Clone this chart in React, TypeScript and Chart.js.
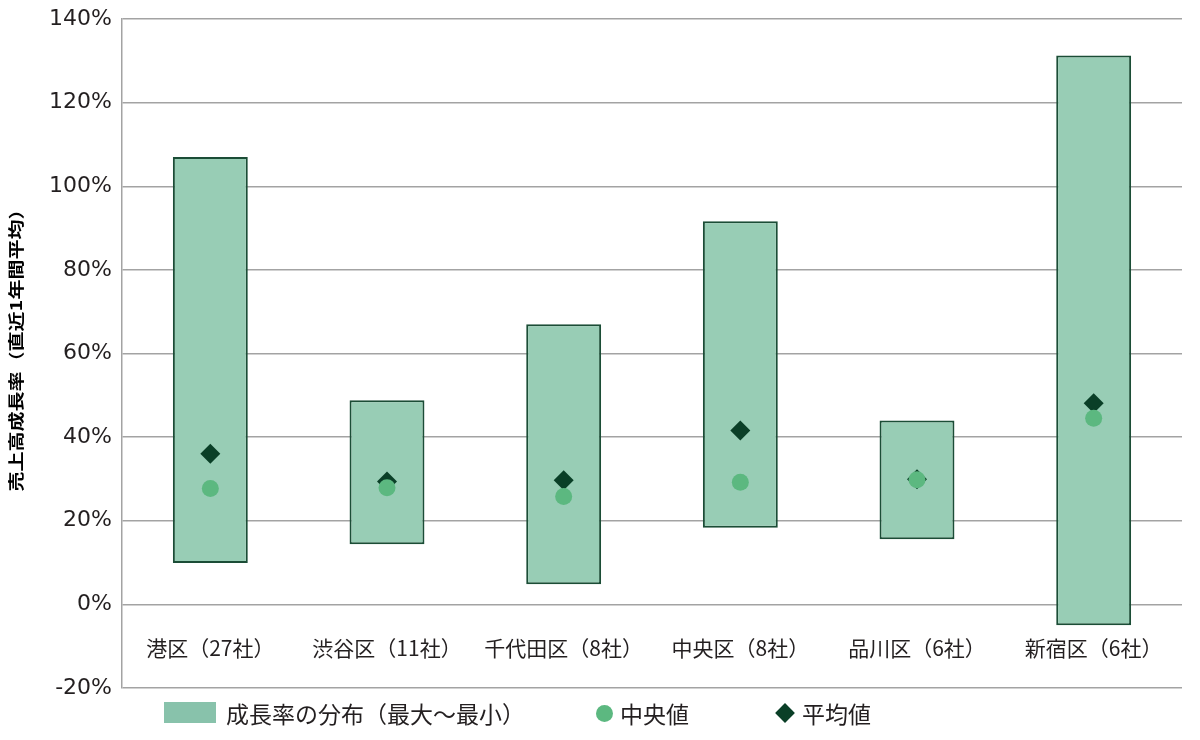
import React, { useRef, useEffect } from 'react';
import { Chart, registerables } from 'chart.js';

Chart.register(...registerables);

const categories = ['港区（27社）', '渋谷区（11社）', '千代田区（8社）', '中央区（8社）', '品川区（6社）', '新宿区（6社）'];
const maxValues = [107.0, 48.8, 67.0, 91.6, 44.0, 131.3];
const minValues = [9.9, 14.4, 4.8, 18.3, 15.6, -5.0];
const medianValues = [27.7, 27.9, 25.8, 29.2, 29.8, 44.5];
const meanValues = [36.0, 29.4, 29.7, 41.6, 29.9, 48.1];
const yTitle = '売上高成長率（直近1年間平均）';

const FONT = '"Noto Sans CJK JP", "Noto Sans", sans-serif';
const TICK_FONT = '"DejaVu Sans", "Noto Sans", sans-serif';
const TEXT = '#231f20';
const BAR_FILL = '#98cdb5';
const BAR_EDGE = '#1b4d36';
const MEDIAN = '#5cb880';
const MEAN = '#0a3f27';
const GRID = '#a3a3a3';

// category names sit inside the plot, below the 0% line; y title drawn by hand
const extraText = {
  id: 'extraText',
  afterDraw(chart: Chart) {
    const { ctx, scales, chartArea } = chart;
    const y = scales.y.getPixelForValue(-10.4);
    ctx.save();
    ctx.font = `21px ${FONT}`;
    ctx.fillStyle = TEXT;
    ctx.textAlign = 'center';
    ctx.textBaseline = 'middle';
    categories.forEach((c, i) => {
      ctx.fillText(c, scales.x.getPixelForValue(i), y);
    });
    ctx.restore();

    // the title glyphs are wide and squat in the original, so stretch along the run
    ctx.save();
    ctx.translate(16, (chartArea.top + chartArea.bottom) / 2 - 8);
    ctx.rotate(-Math.PI / 2);
    ctx.scale(1.25, 1);
    ctx.font = `bold 16px ${FONT}`;
    ctx.fillStyle = '#000';
    ctx.textAlign = 'center';
    ctx.textBaseline = 'middle';
    ctx.fillText(yTitle, 0, 0);
    ctx.restore();
  },
};

const RangeChart: React.FC = () => {
  const chartRef = useRef<HTMLCanvasElement | null>(null);
  const chartInstance = useRef<Chart | null>(null);

  useEffect(() => {
    if (chartInstance.current) {
      chartInstance.current.destroy();
    }
    const ctx = chartRef.current?.getContext('2d');
    if (!ctx) return;

    chartInstance.current = new Chart(ctx, {
      type: 'bar',
      data: {
        labels: categories,
        datasets: [
          {
            type: 'line',
            label: '中央値',
            data: medianValues,
            showLine: false,
            pointStyle: 'circle',
            pointRadius: 8.5,
            pointBackgroundColor: MEDIAN,
            pointBorderWidth: 0,
            order: 1,
          },
          {
            type: 'line',
            label: '平均値',
            data: meanValues,
            showLine: false,
            pointStyle: 'rectRot',
            pointRadius: 10,
            pointBackgroundColor: MEAN,
            pointBorderWidth: 0,
            order: 2,
          },
          {
            type: 'bar',
            label: '成長率の分布（最大～最小）',
            data: minValues.map((m, i) => [m, maxValues[i]]),
            backgroundColor: BAR_FILL,
            borderColor: BAR_EDGE,
            borderWidth: 2,
            borderSkipped: false,
            categoryPercentage: 1,
            barPercentage: 0.424,
            order: 3,
          },
        ] as any,
      },
      options: {
        animation: false,
        responsive: true,
        maintainAspectRatio: false,
        layout: { padding: { top: 19, right: 18, bottom: 52, left: 0 } },
        plugins: {
          legend: { display: false },
          tooltip: { enabled: false },
        },
        scales: {
          x: { display: false },
          y: {
            min: -20,
            max: 140,
            afterFit: (scale: any) => {
              scale.width = 122;
              scale.paddingTop = 0;
              scale.paddingBottom = 0;
            },
            ticks: {
              stepSize: 20,
              padding: 10,
              color: TEXT,
              font: { family: TICK_FONT, size: 22 },
              callback: (v: any) => `${v}%`,
            },
            grid: { color: GRID, lineWidth: 1.5, drawTicks: false },
            border: { display: true, color: GRID, width: 1.5 },
          },
        },
      },
      plugins: [extraText],
    });

    return () => {
      if (chartInstance.current) {
        chartInstance.current.destroy();
        chartInstance.current = null;
      }
    };
  }, []);

  const legendText: React.CSSProperties = {
    position: 'absolute',
    top: 713,
    transform: 'translateY(-50%)',
    fontFamily: FONT,
    fontSize: 23,
    color: TEXT,
    whiteSpace: 'nowrap',
    lineHeight: 1,
  };

  return (
    <div style={{ position: 'absolute', left: 0, top: 0, width: 1200, height: 740, background: '#fff' }}>
      <canvas ref={chartRef} style={{ width: '100%', height: '100%' }} />
      <div style={{ position: 'absolute', left: 164, top: 702, width: 52, height: 21, background: '#88c2ab' }} />
      <div style={{ ...legendText, left: 226 }}>成長率の分布（最大～最小）</div>
      <div style={{ position: 'absolute', left: 596, top: 704.5, width: 17, height: 17, borderRadius: '50%', background: MEDIAN }} />
      <div style={{ ...legendText, left: 620 }}>中央値</div>
      <div style={{ position: 'absolute', left: 778, top: 706, width: 14, height: 14, background: MEAN, transform: 'rotate(45deg)' }} />
      <div style={{ ...legendText, left: 802 }}>平均値</div>
    </div>
  );
};

export default function App() {
  return <RangeChart />;
}
